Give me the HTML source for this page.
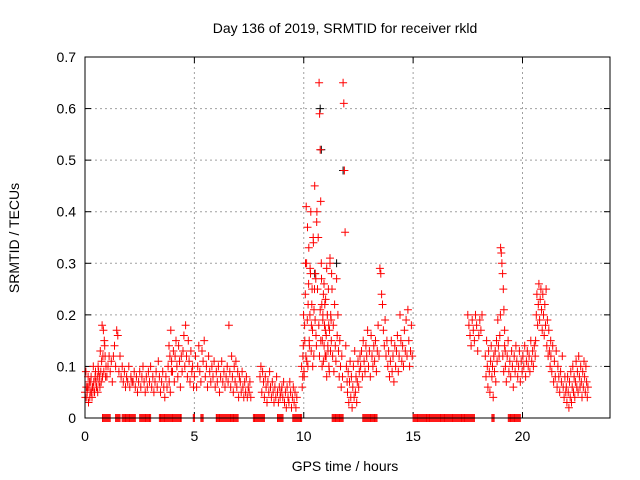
<!DOCTYPE html>
<html><head><meta charset="utf-8"><style>
body{margin:0;background:#fff}
svg{display:block}
text{font-family:"Liberation Sans",sans-serif;font-size:14px;fill:#000}
</style></head><body>
<svg id="chart" width="640" height="480" viewBox="0 0 640 480">
<text x="345" y="33" text-anchor="middle">Day 136 of 2019, SRMTID for receiver rkld</text>
<text x="345" y="471" text-anchor="middle">GPS time / hours</text>
<text transform="translate(19,238) rotate(-90)" text-anchor="middle">SRMTID / TECUs</text>
<g id="grid"></g>
<g id="ticks"></g>
<g id="marks"></g>
<rect x="85" y="57" width="525" height="361" fill="none" stroke="#000" stroke-width="1"/>
</svg>
<script>
const xTicks=[0,5,10,15,20];
const yTicks=[0,0.1,0.2,0.3,0.4,0.5,0.6,0.7];
const yTickLabels=["0","0.1","0.2","0.3","0.4","0.5","0.6","0.7"];
const segStart=[0,0.02,1.0,2.2,3.8,5.0,6.5,8.0,9.0,9.9,9.95,10.7,10.6,11.2,12.0,12.6,17.5,18.3,19.0,19.1,20.6,21.3,22.0];
const segStep=[0.04,0.04,0.05,0.05,0.04,0.05,0.04,0.04,0.04,0.03,0.03,0.025,0.03,0.03,0.03,0.04,0.05,0.03,0.03,0.04,0.03,0.04,0.03];
const segValues=[
[0.05,0.09,0.04,0.06,0.03,0.07,0.05,0.08,0.04,0.06,0.07,0.05,0.09,0.06,0.08,0.1,0.07,0.06,0.09,0.11,0.08,0.17,0.15,0.12,0.1],
[0.04,0.06,0.05,0.08,0.06,0.04,0.07,0.05,0.06,0.1,0.05,0.08,0.07,0.06,0.05,0.09,0.08,0.13,0.07,0.18,0.12,0.09,0.14,0.08],
[0.08,0.1,0.12,0.09,0.11,0.07,0.12,0.14,0.1,0.17,0.16,0.09,0.12,0.08,0.1,0.07,0.09,0.06,0.08,0.07,0.1,0.06,0.08,0.07],
[0.07,0.09,0.06,0.08,0.05,0.07,0.09,0.06,0.08,0.1,0.07,0.05,0.08,0.06,0.09,0.07,0.1,0.06,0.08,0.05,0.07,0.09,0.06,0.11,0.08,0.05,0.07,0.09,0.06,0.04,0.08,0.06,0.1,0.07,0.05,0.09],
[0.1,0.14,0.12,0.17,0.11,0.09,0.13,0.07,0.12,0.15,0.1,0.08,0.14,0.11,0.06,0.12,0.09,0.13,0.16,0.1,0.18,0.12,0.08,0.15,0.11,0.07,0.13,0.09,0.1,0.06],
[0.08,0.12,0.06,0.1,0.14,0.09,0.07,0.13,0.11,0.15,0.08,0.1,0.06,0.12,0.09,0.07,0.1,0.08,0.11,0.06,0.09,0.07,0.1,0.05,0.08,0.11,0.07,0.09,0.06,0.08],
[0.1,0.07,0.18,0.09,0.06,0.12,0.08,0.05,0.1,0.07,0.11,0.06,0.09,0.04,0.08,0.07,0.05,0.09,0.06,0.04,0.07,0.05,0.08,0.04,0.06,0.05,0.07,0.04],
[0.08,0.1,0.05,0.09,0.07,0.04,0.08,0.06,0.03,0.07,0.05,0.09,0.06,0.04,0.07,0.05,0.03,0.06,0.04,0.08,0.05,0.03,0.06,0.04,0.05],
[0.06,0.04,0.07,0.03,0.05,0.02,0.06,0.04,0.03,0.07,0.05,0.02,0.04,0.06,0.03,0.05,0.02,0.04],
[0.1,0.06,0.12,0.2,0.08,0.15,0.3,0.41,0.11,0.37,0.22,0.33,0.14,0.29,0.4,0.18,0.25,0.1,0.34,0.21,0.45,0.28,0.16,0.38],
[0.08,0.14,0.09,0.18,0.24,0.12,0.3,0.19,0.1,0.26,0.15,0.2,0.28,0.13,0.22,0.17,0.35,0.12,0.25,0.19,0.27,0.14],
[0.65,0.59,0.52,0.42,0.3,0.22,0.15,0.2,0.11,0.26,0.18,0.12,0.23,0.16,0.08,0.2,0.14,0.25,0.1,0.17,0.31,0.13,0.19,0.28],
[0.4,0.25,0.35,0.18,0.12,0.21,0.15,0.27,0.1,0.19,0.24,0.14,0.22,0.17,0.12,0.29,0.2,0.13,0.18,0.09],
[0.3,0.2,0.15,0.25,0.12,0.18,0.09,0.22,0.14,0.11,0.27,0.16,0.2,0.13,0.08,0.15,0.1,0.06,0.12,0.08,0.65,0.61,0.48,0.36,0.14,0.1,0.07],
[0.05,0.09,0.03,0.07,0.11,0.04,0.08,0.02,0.06,0.1,0.04,0.13,0.05,0.08,0.03,0.07,0.11,0.06,0.09,0.12],
[0.1,0.13,0.08,0.15,0.11,0.09,0.14,0.12,0.17,0.1,0.13,0.08,0.16,0.12,0.1,0.14,0.11,0.15,0.09,0.13,0.18,0.12,0.29,0.28,0.24,0.22,0.17,0.14,0.19,0.12,0.15,0.1,0.13,0.08,0.11,0.15,0.09,0.12,0.07,0.14,0.1,0.13,0.16,0.09,0.12,0.2,0.15,0.11,0.14,0.1,0.17,0.13,0.19,0.12,0.21,0.15,0.1,0.13,0.18,0.12],
[0.2,0.18,0.16,0.14,0.19,0.17,0.15,0.2,0.18,0.13,0.16,0.19,0.17,0.2],
[0.12,0.08,0.15,0.1,0.06,0.13,0.09,0.05,0.11,0.14,0.08,0.1,0.04,0.12,0.09,0.13,0.07,0.15,0.11,0.19,0.14,0.12,0.16,0.2],
[0.33,0.32,0.3,0.28,0.25,0.21,0.17,0.13],
[0.12,0.09,0.14,0.1,0.07,0.12,0.15,0.09,0.11,0.08,0.13,0.1,0.06,0.12,0.09,0.14,0.11,0.08,0.1,0.13,0.07,0.11,0.09,0.12,0.1,0.14,0.08,0.11,0.13,0.1,0.12,0.09,0.15,0.11,0.13,0.1,0.14,0.12],
[0.15,0.2,0.24,0.18,0.22,0.26,0.19,0.23,0.25,0.21,0.17,0.24,0.2,0.16,0.22,0.18,0.25,0.14,0.19,0.12,0.17,0.13,0.1,0.15],
[0.12,0.09,0.14,0.07,0.11,0.08,0.13,0.06,0.1,0.08,0.05,0.09,0.07,0.12,0.06,0.04,0.08,0.05],
[0.06,0.03,0.08,0.05,0.02,0.07,0.04,0.09,0.03,0.06,0.1,0.05,0.08,0.04,0.07,0.11,0.06,0.09,0.05,0.12,0.08,0.06,0.1,0.07,0.04,0.09,0.06,0.11,0.08,0.05,0.1,0.07,0.04,0.06]
];
const zeroStart=[0.8,1.4,1.7,2.5,3.4,4.95,5.3,6.0,7.7,8.8,9.5,11.3,12.7,15.0,18.6,19.35];
const zeroEnd=[1.15,1.6,2.3,3.0,4.4,5.0,5.4,7.0,8.2,9.05,9.9,11.8,13.35,17.8,18.7,19.9];
const blackTimes=[10.75,10.8,11.8,10.5,11.5];
const blackValues=[0.6,0.52,0.48,0.28,0.3];

const NS="http://www.w3.org/2000/svg";
const X0=85,X1=610,Y0=418,Y1=57;
function xs(t){return X0+t*(X1-X0)/24;}
function ys(v){return Y0-v*(Y0-Y1)/0.7;}
const grid=document.getElementById('grid'),ticks=document.getElementById('ticks'),marks=document.getElementById('marks');
function mk(tag,attrs,parent){const e=document.createElementNS(NS,tag);for(const k in attrs)e.setAttribute(k,attrs[k]);parent.appendChild(e);return e;}
xTicks.forEach((t,i)=>{
  const x=xs(t);
  if(i>0){const g=mk('line',{x1:x,x2:x,y1:Y1,y2:Y0,stroke:'#a0a0a0','stroke-dasharray':'2,3'},grid);
  
  }
  const l=mk('text',{x:x,y:Y0+23,'text-anchor':'middle'},ticks);l.textContent=String(t);
  
  
  mk('line',{x1:x,x2:x,y1:Y0,y2:Y0-6,stroke:'#000'},ticks);
  mk('line',{x1:x,x2:x,y1:Y1,y2:Y1+6,stroke:'#000'},ticks);
});
yTicks.forEach((v,i)=>{
  const y=ys(v);
  if(i>0&&i<yTicks.length-1){const g=mk('line',{x1:X0,x2:X1,y1:y,y2:y,stroke:'#a0a0a0','stroke-dasharray':'2,3'},grid);
  
  }
  const l=mk('text',{x:X0-9,y:y+5,'text-anchor':'end'},ticks);l.textContent=yTickLabels[i];
  
  
  mk('line',{x1:X0,x2:X0+6,y1:y,y2:y,stroke:'#000'},ticks);
  mk('line',{x1:X1,x2:X1-6,y1:y,y2:y,stroke:'#000'},ticks);
});
let d='',db='';
function cross(t,v){const x=xs(t),y=ys(v);return `M${(x-4).toFixed(1)} ${y.toFixed(1)}h8M${x.toFixed(1)} ${(y-4).toFixed(1)}v8`;}
blackTimes.forEach((t,i)=>{db+=cross(t,blackValues[i]);});
segValues.forEach((vals,s)=>{vals.forEach((v,i)=>{d+=cross(segStart[s]+i*segStep[s],v);});});
zeroStart.forEach((a,i)=>{for(let t=a;t<=zeroEnd[i]+1e-9;t+=0.05)d+=cross(t,0);});
const pb=mk('path',{d:db,stroke:'#000','stroke-width':1,fill:'none'},marks);


const p=mk('path',{d:d,stroke:'#ff0000','stroke-width':1,fill:'none'},marks);


</script>
</body></html>
